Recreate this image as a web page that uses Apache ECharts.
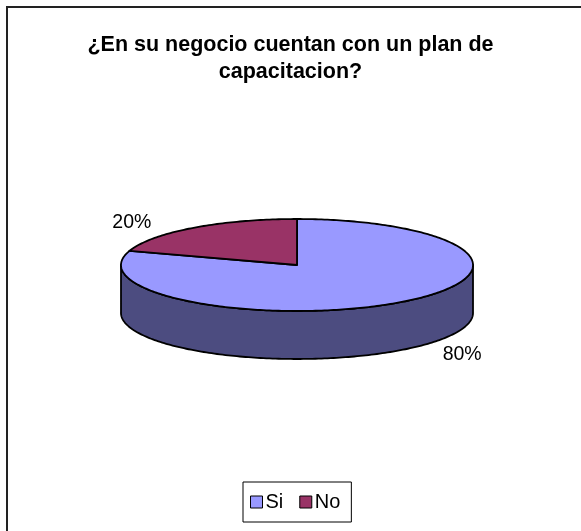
<!DOCTYPE html>
<html>
<head>
<meta charset="utf-8">
<script src="https://cdn.jsdelivr.net/npm/echarts@6/dist/echarts.min.js"></script>
<style>
  html, body { margin: 0; padding: 0; background: #fff; }
  #chart { width: 581px; height: 531px; }
</style>
</head>
<body>
<div id="chart"></div>
<script>
// Survey answers
const titleText = '¿En su negocio cuentan con un plan de\ncapacitacion?';
const categories = ['Si', 'No'];
const values = [80, 20];

// Styling
const FONT = 'Arial, "Liberation Sans", Helvetica, sans-serif';
const topColors = ['#9999FF', '#993366'];
const sideColors = ['#4C4C80', '#4D1A33'];

// Tilted pie body: centre, ellipse radii and wall height (px)
const PIE = { cx: 297, cy: 265, rx: 176, ry: 46, depth: 48 };
const LABEL_RX = PIE.rx + 105;
const LABEL_RY = PIE.ry + 6;

const total = values.reduce((a, b) => a + b, 0);
const starts = values.map((v, i) => values.slice(0, i).reduce((a, b) => a + b, 0));

// Points along the rim ellipse from angle a0 to a1, lowered by dz
function arcPoints(a0, a1, dz) {
  const n = Math.max(2, Math.ceil(Math.abs(a1 - a0) / (Math.PI / 180)));
  const pts = [];
  for (let k = 0; k <= n; k++) {
    const a = a0 + (a1 - a0) * k / n;
    pts.push([PIE.cx + PIE.rx * Math.cos(a), PIE.cy - PIE.ry * Math.sin(a) + dz]);
  }
  return pts;
}

// One slice: front wall (where it faces the viewer), top face and percentage label.
// Slices run clockwise from 12 o'clock.
function renderSlice(params, api) {
  const start = api.value(0);
  const val = api.value(1);
  const sum = api.value(2);
  const i = params.seriesIndex;
  const a0 = Math.PI / 2 - start / sum * 2 * Math.PI;
  const a1 = Math.PI / 2 - (start + val) / sum * 2 * Math.PI;
  const edge = { stroke: '#000', lineWidth: 1.8, lineJoin: 'round' };
  const children = [];

  for (let k = -2; k <= 2; k++) {
    const lo = Math.max(a1, -Math.PI + 2 * Math.PI * k);
    const hi = Math.min(a0, 2 * Math.PI * k);
    if (hi - lo > 1e-6) {
      const upper = arcPoints(lo, hi, 0);
      const lower = arcPoints(hi, lo, PIE.depth);
      children.push({
        type: 'polygon',
        shape: { points: upper.concat(lower) },
        style: Object.assign({ fill: sideColors[i] }, edge)
      });
    }
  }

  children.push({
    type: 'polygon',
    shape: { points: [[PIE.cx, PIE.cy]].concat(arcPoints(a0, a1, 0)) },
    style: Object.assign({ fill: topColors[i] }, edge)
  });

  const am = (a0 + a1) / 2;
  const lx = PIE.cx + LABEL_RX * Math.cos(am);
  const ly = PIE.cy - LABEL_RY * Math.sin(am) + (Math.sin(am) < 0 ? PIE.depth : 0);
  children.push({
    type: 'text',
    style: {
      x: lx, y: ly,
      text: Math.round(val / sum * 100) + '%',
      align: 'center', verticalAlign: 'middle',
      fontSize: 19.5, fontFamily: FONT, fill: '#000'
    }
  });

  return { type: 'group', children };
}

const chart = echarts.init(document.getElementById('chart'), null, { renderer: 'canvas' });

chart.setOption({
  animation: false,
  backgroundColor: '#fff',
  title: {
    text: titleText,
    left: 'center',
    top: 27,
    padding: [5, 0, 5, 11],
    textStyle: { fontSize: 21.5, fontWeight: 'bold', fontFamily: FONT, color: '#000', lineHeight: 27 }
  },
  legend: {
    data: categories,
    left: 243,
    bottom: 9,
    icon: 'rect',
    itemWidth: 12,
    itemHeight: 12,
    itemGap: 16,
    padding: [10, 11, 10, 7],
    borderColor: '#000',
    borderWidth: 1,
    itemStyle: { borderColor: '#000', borderWidth: 1 },
    textStyle: { fontSize: 20, fontFamily: FONT, color: '#000', padding: [0, 0, 0, -2] }
  },
  graphic: [{
    type: 'rect',
    silent: true,
    z: -1,
    shape: { x: 7, y: 7, width: 640, height: 600 },
    style: { fill: null, stroke: '#222', lineWidth: 2 }
  }],
  series: categories.map((name, i) => ({
    type: 'custom',
    name: name,
    coordinateSystem: 'none',
    silent: true,
    itemStyle: { color: topColors[i] },
    renderItem: renderSlice,
    data: [[starts[i], values[i], total]]
  }))
});
</script>
</body>
</html>
